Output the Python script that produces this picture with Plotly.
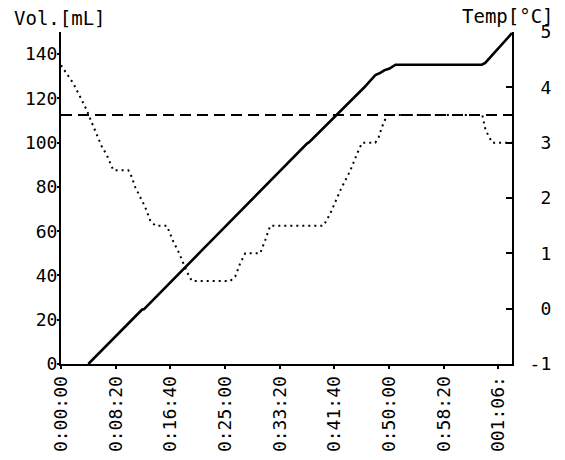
import plotly.graph_objects as go

# ---- data ----
vol_time = [250, 740, 760, 1250, 1270, 2250, 2270, 2770, 2875, 2920, 2960, 3000, 3040, 3060, 3850, 3880, 4125]
vol_ml = [0, 24.5, 24.8, 49.8, 50.4, 99.6, 100.2, 124.8, 130.5, 131.5, 132.8, 133.4, 134.6, 135.2, 135.2, 136.0, 149.5]

temp_time = [0, 113, 190, 235, 280, 342, 373, 418, 449, 479, 616, 647, 678, 723, 769, 815, 861, 968,
             1028, 1074, 1105, 1151, 1197, 1548, 1593, 1639, 1685, 1822, 1868, 1914, 2402,
             2463, 2555, 2647, 2708, 2754, 2875, 2906, 2937, 2983, 3853, 3883, 3944, 4125]
temp_c = [4.4, 4.07, 3.77, 3.59, 3.37, 3.08, 2.93, 2.78, 2.65, 2.5, 2.5, 2.38, 2.2, 2.02, 1.84, 1.6, 1.5, 1.5,
          1.21, 1.03, 0.88, 0.67, 0.5, 0.5, 0.58, 0.82, 1.0, 1.0, 1.24, 1.5, 1.5,
          1.72, 2.14, 2.5, 2.8, 3.0, 3.0, 3.1, 3.29, 3.5, 3.5, 3.23, 3.0, 3.0]

setpoint_time = [0, 4125]
setpoint_c = [3.5, 3.5]

x_tickvals = [0, 500, 1000, 1500, 2000, 2500, 3000, 3500, 4000]
x_ticktext = ["0:00:00", "0:08:20", "0:16:40", "0:25:00", "0:33:20", "0:41:40", "0:50:00", "0:58:20", "001:06:"]
y1_tickvals = [0, 20, 40, 60, 80, 100, 120, 140]
y2_tickvals = [-1, 0, 1, 2, 3, 4, 5]
y2_ticktext = ["-1", "\u00a00", "\u00a01", "\u00a02", "\u00a03", "\u00a04", "\u00a05"]

FONT = "DejaVu Sans Mono"

fig = go.Figure()
fig.add_trace(go.Scatter(x=temp_time, y=temp_c, mode="lines", yaxis="y2",
                         line=dict(color="black", width=2, dash="2px,4px"), showlegend=False))
fig.add_trace(go.Scatter(x=setpoint_time, y=setpoint_c, mode="lines", yaxis="y2",
                         line=dict(color="black", width=2, dash="11px,6px"), showlegend=False))
fig.add_trace(go.Scatter(x=vol_time, y=vol_ml, mode="lines", yaxis="y",
                         line=dict(color="black", width=2.6), showlegend=False))

# page body has an 8px margin: figure is 8px smaller so the plot lands where the reference has it
fig.update_layout(
    width=557, height=452,
    margin=dict(l=53, r=53, t=24, b=96, autoexpand=False),
    paper_bgcolor="white", plot_bgcolor="white",
    font=dict(family=FONT, size=18, color="black"),
    xaxis=dict(range=[0, 4125], tickvals=x_tickvals, ticktext=x_ticktext, tickangle=-90,
               showgrid=False, zeroline=False, showline=True, linecolor="black", linewidth=2,
               ticks="outside", ticklen=3, tickcolor="black", tickwidth=1.5, automargin=False),
    yaxis=dict(range=[0, 150], tickvals=y1_tickvals, showgrid=False, zeroline=False,
               showline=True, linecolor="black", linewidth=2, automargin=False,
               ticks="outside", ticklen=2, tickcolor="black", tickwidth=1.5, ticklabelstandoff=-4),
    yaxis2=dict(range=[-1, 5], tickvals=y2_tickvals, ticktext=y2_ticktext, overlaying="y", side="right",
                showgrid=False, zeroline=False, showline=True, linecolor="black", linewidth=2,
                automargin=False,
                ticks="inside", ticklen=6, tickcolor="black", tickwidth=1.5, ticklabelstandoff=12),
    annotations=[
        dict(text="Vol.[mL]", xref="paper", yref="paper", x=0, y=1, xanchor="left", yanchor="bottom",
             yshift=1, xshift=-49, showarrow=False, font=dict(family=FONT, size=19)),
        dict(text="Temp[°C]", xref="paper", yref="paper", x=1, y=1, xanchor="right", yanchor="bottom",
             yshift=3, xshift=44, showarrow=False, font=dict(family=FONT, size=19)),
    ],
)

fig.write_html("out.html")
